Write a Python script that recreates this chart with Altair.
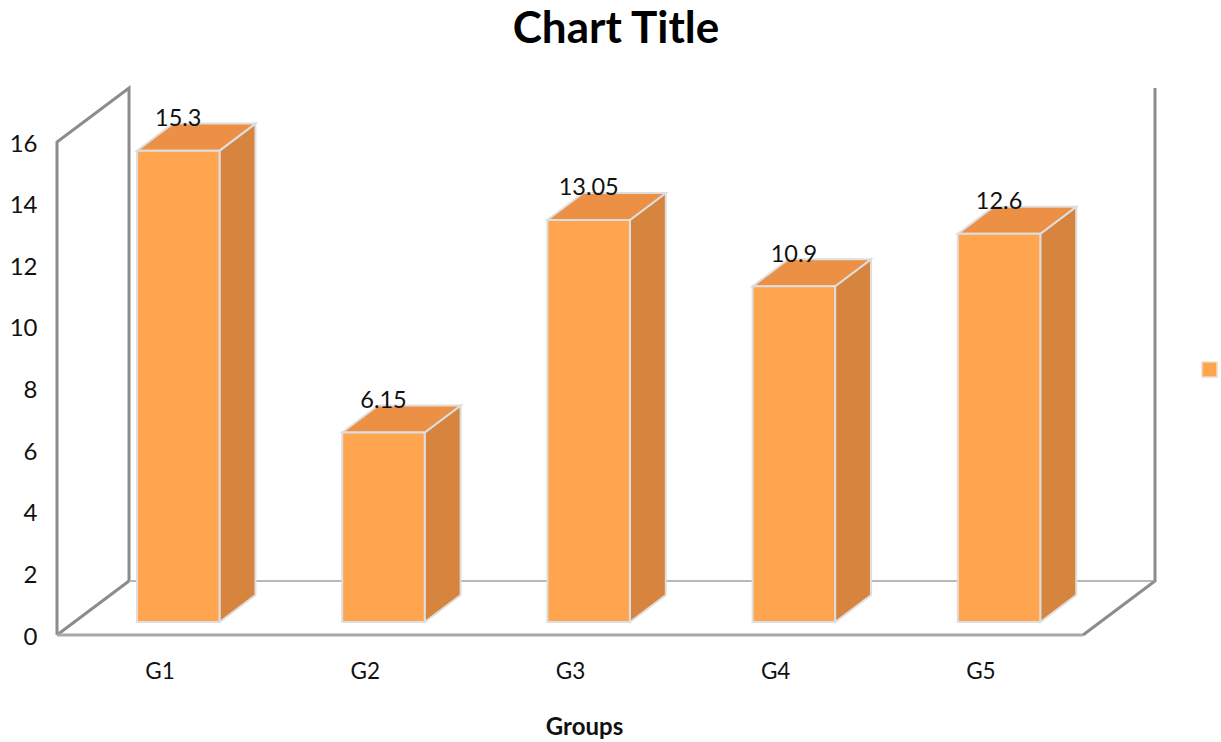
import altair as alt
import pandas as pd

# Series values and labels
groups = ["G1", "G2", "G3", "G4", "G5"]
values = [15.3, 6.15, 13.05, 10.9, 12.6]
y_ticks = [0, 2, 4, 6, 8, 10, 12, 14, 16]
chart_title = ["Chart Title"]

FONT = "Lato"
FRONT, SIDE, TOP = "#FFA54F", "#D6843E", "#EB9045"
EDGE = "#DEDEDE"
WALL = "#8C8C8C"

# Pseudo-3D geometry, in axis units
WALL_DX, WALL_DY = 0.351, 1.753   # depth of the floor and walls
BAR_DX, BAR_DY = 0.175, 0.877     # depth of each column
BAR_W, BAR_START, BAR_BASE = 0.402, 0.39, 0.42

x_scale = alt.Scale(domain=[0, 5 + WALL_DX], nice=False, zero=False)
y_scale = alt.Scale(domain=[0, 16 + WALL_DY], nice=False, zero=False)
x_f = alt.X("x:Q", scale=x_scale, axis=None)
y_f = alt.Y("y:Q", scale=y_scale, axis=None)

bars = pd.DataFrame({"group": groups, "value": values})
bars["xl"] = [BAR_START + i for i in range(len(groups))]
bars["xr"] = bars.xl + BAR_W
bars["base"] = BAR_BASE
bars["top"] = bars.base + bars.value
bars["mid"] = (bars.xl + bars.xr) / 2
bars["series"] = " "

side_rows, top_rows = [], []
for b in bars.itertuples():
    side_rows += [
        {"g": b.group, "x": b.xr, "y": b.base, "y2": b.top},
        {"g": b.group, "x": b.xr + BAR_DX, "y": b.base + BAR_DY, "y2": b.top + BAR_DY},
    ]
    top_rows += [
        {"g": b.group, "y": b.top, "x": b.xl, "x2": b.xr},
        {"g": b.group, "y": b.top + BAR_DY, "x": b.xl + BAR_DX, "x2": b.xr + BAR_DX},
    ]


def polyline(name, pts):
    return [{"path": name, "i": i, "x": p[0], "y": p[1]} for i, p in enumerate(pts)]


X_END = 5.0
Y_END = 16.0
wall_rows = polyline("left", [(0, 0), (0, Y_END), (WALL_DX, Y_END + WALL_DY), (WALL_DX, WALL_DY)]) \
    + polyline("floor_side", [(0, 0), (WALL_DX, WALL_DY)]) \
    + polyline("right", [(5 + WALL_DX, Y_END + WALL_DY), (5 + WALL_DX, WALL_DY), (X_END, 0)])
floor_rows = polyline("front", [(0, 0), (X_END, 0)])
back_rows = polyline("back", [(WALL_DX, WALL_DY), (5 + WALL_DX, WALL_DY)])

# Axes carry only the labels: the frame is drawn separately
label_expr = "[" + ",".join(f"'{g}'" for g in groups) + "][floor(datum.value)]"
axes = alt.Chart(bars).mark_point(opacity=0).encode(
    x=alt.X(
        "mid:Q", scale=x_scale,
        axis=alt.Axis(
            values=[i + 0.5 for i in range(len(groups))], labelExpr=label_expr,
            title="Groups", titleFont=FONT, titleFontSize=24, titleFontWeight="bold",
            titleColor="#111111", titleX=527, titleY=92, titleBaseline="middle",
            labelFont=FONT, labelFontSize=22.5, labelColor="#111111",
            labelPadding=25, labelOverlap=False, labelFlush=False,
            domain=False, ticks=False, grid=False,
        ),
    ),
    y=alt.Y(
        "top:Q", scale=y_scale,
        axis=alt.Axis(
            values=y_ticks, title=None, labelFont=FONT, labelFontSize=24,
            labelColor="#111111", labelPadding=20, labelOffset=2,
            domain=False, ticks=False, grid=False,
        ),
    ),
)


def frame(rows, color, width):
    return alt.Chart(pd.DataFrame(rows)).mark_line(
        color=color, strokeWidth=width, strokeJoin="miter", interpolate="linear"
    ).encode(x=x_f, y=y_f, detail="path:N", order="i:Q")


walls = frame(wall_rows, WALL, 3)
floor = frame(floor_rows, "#A8A8A8", 3)
back = frame(back_rows, "#A0A0A0", 1.5)

side = alt.Chart(pd.DataFrame(side_rows)).mark_area(
    color=SIDE, stroke=EDGE, strokeWidth=2, interpolate="linear", opacity=1
).encode(x=x_f, y=y_f, y2="y2:Q", detail="g:N")

top = alt.Chart(pd.DataFrame(top_rows)).mark_area(
    color=TOP, stroke=EDGE, strokeWidth=2, interpolate="linear", orient="horizontal", opacity=1
).encode(y=y_f, x=x_f, x2="x2:Q", detail="g:N")

front = alt.Chart(bars).mark_rect(stroke=EDGE, strokeWidth=2).encode(
    x=alt.X("xl:Q", scale=x_scale, axis=None),
    x2="xr:Q",
    y=alt.Y("base:Q", scale=y_scale, axis=None),
    y2="top:Q",
    color=alt.Color(
        "series:N",
        scale=alt.Scale(domain=[" "], range=[FRONT]),
        legend=alt.Legend(
            title=None, orient="none", legendX=1144, legendY=273,
            symbolType="square", symbolSize=225, symbolStrokeColor="#F2DCC8",
            symbolFillColor="#F79646", labelFontSize=1,
        ),
    ),
)

labels = alt.Chart(bars).mark_text(
    font=FONT, fontSize=23.5, color="#111111", baseline="middle", dy=-31.5
).encode(
    x=alt.X("mid:Q", scale=x_scale, axis=None),
    y=alt.Y("top:Q", scale=y_scale, axis=None),
    text=alt.Text("value:Q", format=".4~f"),
)

# Heading sits in the band above the plot area
heading = alt.Chart(pd.DataFrame({"t": chart_title})).mark_text(
    font=FONT, fontSize=44, fontWeight="bold", color="#000000",
    align="center", baseline="middle",
).encode(x=alt.value(559), y=alt.value(-58), text="t:N")

chart = alt.layer(axes, walls, floor, back, side, top, front, labels, heading).resolve_axis(
    x="independent", y="independent"
).properties(
    width=1098,
    height=547,
    padding={"left": 57, "top": 88, "right": 64, "bottom": 105},
    autosize=alt.AutoSizeParams(type="none"),
).configure_view(stroke=None)

chart.save("out.html", embed_options={"renderer": "svg", "actions": False})
